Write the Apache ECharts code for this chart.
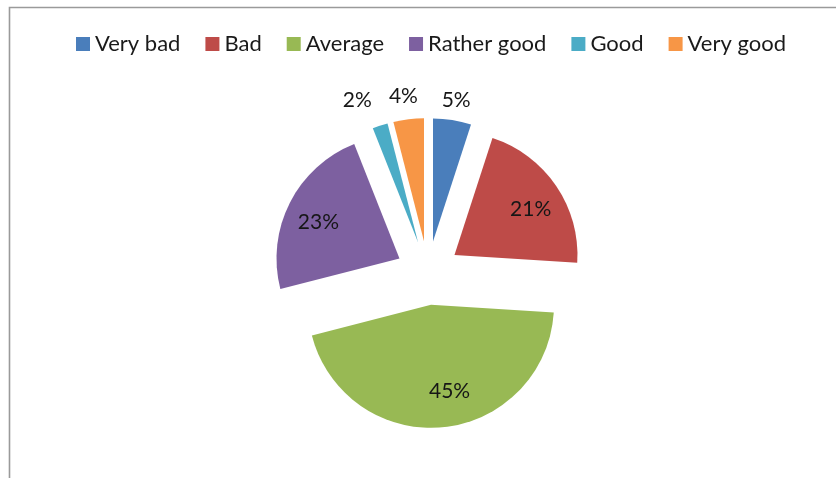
<!DOCTYPE html>
<html>
<head>
<meta charset="utf-8">
<script src="https://cdn.jsdelivr.net/npm/echarts@6/dist/echarts.min.js"></script>
<style>
  html, body { margin: 0; padding: 0; background: #ffffff; }
  #chart { width: 836px; height: 478px; }
</style>
</head>
<body>
<div id="chart"></div>
<script>
// Survey answers and their share of respondents (percent)
const categories = ['Very bad', 'Bad', 'Average', 'Rather good', 'Good', 'Very good'];
const shares = [5, 21, 45, 23, 2, 4];
const colors = ['#4A7EBB', '#BE4B48', '#98B954', '#7D60A0', '#4BACC6', '#F79646'];

// Small per-label tweaks (px) on top of the radial placement
const labelNudge = [[0, 5], [1, 5], [10, -4], [0, 5], [-15, -1], [-2, 2]];

const RADIUS = 123;
const EXPLODE = 32;
const total = shares.reduce((a, b) => a + b, 0);

// Middle angle of each slice, clockwise from 12 o'clock (radians)
const midAngles = [];
let acc = 0;
shares.forEach(v => {
  const span = v / total * Math.PI * 2;
  midAngles.push(acc + span / 2);
  acc += span;
});

const chart = echarts.init(document.getElementById('chart'), null, { renderer: 'canvas' });

chart.setOption({
  animation: false,
  backgroundColor: '#ffffff',
  color: colors,
  legend: {
    left: 76,
    top: 33,
    padding: 0,
    icon: 'rect',
    itemWidth: 14,
    itemHeight: 14,
    itemGap: 25,
    selectedMode: false,
    textStyle: { fontFamily: 'Lato', fontSize: 22, color: '#1a1a1a', lineHeight: 22 },
    data: categories
  },
  graphic: [{
    type: 'polyline',
    shape: { points: [[9.5, 478], [9.5, 7.5], [836, 7.5]] },
    style: { stroke: '#9a9a9a', lineWidth: 1.6, fill: null },
    silent: true
  }],
  series: [{
    type: 'pie',
    center: [428, 273],
    radius: [0, RADIUS],
    startAngle: 90,
    clockwise: true,
    selectedMode: 'multiple',
    selectedOffset: EXPLODE,
    avoidLabelOverlap: false,
    emphasis: { disabled: true },
    label: {
      show: true,
      position: 'inside',
      formatter: '{c}%',
      fontFamily: 'Lato',
      fontSize: 21,
      color: '#161616'
    },
    labelLine: { show: false },
    // Push labels further out along each slice's middle angle:
    // big slices keep them inside, thin slices place them beyond the rim.
    labelLayout: function (p) {
      const i = p.dataIndex;
      const target = shares[i] >= 10 ? 0.715 * RADIUS : 1.18 * RADIUS;
      const extra = target - RADIUS / 2;
      const a = midAngles[i];
      return {
        dx: extra * Math.sin(a) + labelNudge[i][0],
        dy: -extra * Math.cos(a) + labelNudge[i][1]
      };
    },
    data: categories.map((name, i) => ({ name: name, value: shares[i], selected: true }))
  }]
});
</script>
</body>
</html>
